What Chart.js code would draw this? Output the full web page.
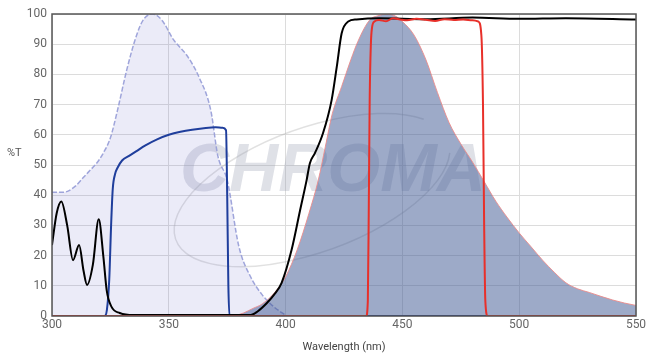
<!DOCTYPE html>
<html>
<head>
<meta charset="utf-8">
<script src="https://cdn.jsdelivr.net/npm/chart.js@4/dist/chart.umd.min.js"></script>
<style>
  html, body { margin: 0; padding: 0; background: #fff; }
  #wrap { width: 652px; height: 354px; }
</style>
</head>
<body>
<div id="wrap"><canvas id="spectra"></canvas></div>
<script>
// excitation spectrum (dashed lavender, filled)
const exWl = [300, 305, 310, 313, 316, 319, 322, 325, 328, 332, 336, 339, 343, 347, 352, 358, 363, 368, 371, 375, 380, 385, 390, 395, 400];
const exVal = [41, 41, 43, 45.5, 48, 50.5, 54, 59, 68, 81.5, 92.5, 98, 100, 98, 91.5, 86, 79, 68, 53, 45, 23, 13, 7, 3, 0.3];

// excitation filter (blue)
const exfWl = [300, 322.5, 323.5, 324.5, 325.3, 326, 327, 328, 330, 333, 336, 340, 345, 350, 355, 360, 365, 370, 373, 374.5, 375, 375.5, 376, 550];
const exfVal = [0, 0, 2, 12, 30, 42, 47, 49, 51.5, 53, 54.5, 56.5, 58.5, 60, 61, 61.7, 62.2, 62.5, 62.3, 61.5, 40, 10, 0, 0];

// dichroic (black)
const dcWl = [300, 302, 304, 306.5, 309, 311.6, 313.5, 315, 317.5, 320, 322, 323.4, 325.5, 329, 335, 385, 388, 392, 395, 398.3, 402.6, 406.2, 409, 410.4, 412.6, 416, 419.7, 421.9, 424, 426.8, 430.4, 440, 460, 480, 500, 520, 550];
const dcVal = [23.5, 34, 37.9, 30, 18.5, 23.5, 15, 10.3, 17, 32, 19.6, 8.6, 3, 1, 0.3, 0.3, 1.5, 4.3, 7, 11, 22, 35, 45, 50.6, 54, 60.5, 71.5, 82.5, 93.6, 97.5, 98.2, 98.6, 98.3, 98.8, 98.4, 98.6, 98.2];

// emission spectrum (filled steel blue)
const emWl = [378, 382, 386, 390, 395, 400, 405, 410, 414, 417, 420, 424, 428, 431, 436, 440, 443.5, 447, 450, 455, 460, 465, 470, 475, 480, 485, 490, 495, 500, 505, 510, 515, 520, 525, 530, 535, 540, 545, 550];
const emVal = [0, 1, 2.5, 4, 7.5, 13, 22, 34, 45, 56, 67, 76, 85, 91, 98, 99.5, 100, 99.3, 97.5, 93, 85, 74, 64, 57, 51, 44.5, 38, 32.5, 27.5, 23, 18.5, 14.5, 11, 9, 7.8, 6.5, 5.3, 4.3, 3.5];

// emission filter (red)
const emfWl = [300, 434.5, 435.2, 435.6, 436, 436.5, 437, 438, 440, 443, 446, 449, 452, 456, 460, 464, 468, 472, 476, 480, 482.5, 483.8, 484.5, 485, 485.5, 486.5, 550];
const emfVal = [0, 0, 5, 35, 72, 90, 95.5, 97.5, 98, 97.6, 98.6, 98.2, 97.9, 98.4, 98.1, 97.7, 98.3, 98, 98.2, 97.9, 97.5, 93, 70, 30, 5, 0, 0];

const xTicks = [300, 350, 400, 450, 500, 550];
const yTicks = [0, 10, 20, 30, 40, 50, 60, 70, 80, 90, 100];

const pts = (xs, ys) => xs.map((x, i) => ({ x: x, y: ys[i] }));

const frameAndLabels = {
  id: 'frameAndLabels',
  beforeDatasetsDraw(chart) {
    const { ctx } = chart;
    ctx.save();
    // CHROMA watermark
    ctx.beginPath();
    ctx.ellipse(312, 190, 145, 62, -0.35, 0.2, Math.PI * 1.85);
    ctx.strokeStyle = 'rgba(170,170,170,0.35)';
    ctx.lineWidth = 1.5;
    ctx.stroke();
    ctx.font = 'italic bold 68px "Liberation Sans", Arial, sans-serif';
    ctx.fillStyle = 'rgba(150,155,175,0.30)';
    ctx.textBaseline = 'middle';
    ctx.fillText('CHROMA', 180, 172);
    ctx.restore();
  },
  afterDraw(chart) {
    const { ctx, chartArea: a } = chart;
    ctx.save();
    ctx.strokeStyle = '#555';
    ctx.lineWidth = 1.5;
    ctx.strokeRect(a.left, a.top, a.right - a.left, a.bottom - a.top);
    ctx.fillStyle = '#555';
    ctx.font = '11px Roboto, sans-serif';
    ctx.textAlign = 'left';
    ctx.textBaseline = 'middle';
    ctx.fillText('%T', 7, 153);
    ctx.restore();
  }
};

new Chart(document.getElementById('spectra'), {
  type: 'line',
  data: {
    datasets: [
      { data: pts(emfWl, emfVal), borderColor: '#e8302a', borderWidth: 2, fill: false, order: 1 },
      { data: pts(dcWl, dcVal), borderColor: '#000', borderWidth: 2, fill: false, order: 2 },
      { data: pts(exfWl, exfVal), borderColor: '#1f3e9c', borderWidth: 2, fill: false, order: 3 },
      { data: pts(emWl, emVal), borderColor: 'rgba(235,140,140,0.9)', borderWidth: 1, fill: 'origin', backgroundColor: 'rgba(60,85,145,0.5)', order: 4 },
      { data: pts(exWl, exVal), borderColor: 'rgba(150,156,215,0.9)', borderWidth: 1.5, borderDash: [5, 2], fill: 'origin', backgroundColor: 'rgba(100,100,200,0.13)', order: 5 }
    ]
  },
  options: {
    responsive: true,
    maintainAspectRatio: false,
    animation: false,
    layout: { padding: { top: 14, right: 16, left: 0, bottom: 0 } },
    elements: { point: { radius: 0 }, line: { cubicInterpolationMode: 'monotone' } },
    plugins: { legend: { display: false }, tooltip: { enabled: false } },
    scales: {
      x: {
        type: 'linear', min: 300, max: 550,
        afterBuildTicks: (s) => { s.ticks = xTicks.map(v => ({ value: v })); },
        afterFit: (s) => { s.height = 38; },
        ticks: { color: '#666', font: { family: 'Roboto', size: 12 }, padding: 2 },
        grid: { color: '#dcdcdc', drawTicks: false },
        border: { display: false },
        title: { display: true, text: 'Wavelength (nm)', color: '#444', font: { family: 'Roboto', size: 11 }, padding: { top: 1, bottom: 0 } }
      },
      y: {
        min: 0, max: 100,
        afterBuildTicks: (s) => { s.ticks = yTicks.map(v => ({ value: v })); },
        afterFit: (s) => { s.width = 52; },
        ticks: { color: '#666', font: { family: 'Roboto', size: 12 }, padding: 5 },
        grid: { color: '#dcdcdc', drawTicks: false },
        border: { display: false }
      }
    }
  },
  plugins: [frameAndLabels]
});
</script>
</body>
</html>
